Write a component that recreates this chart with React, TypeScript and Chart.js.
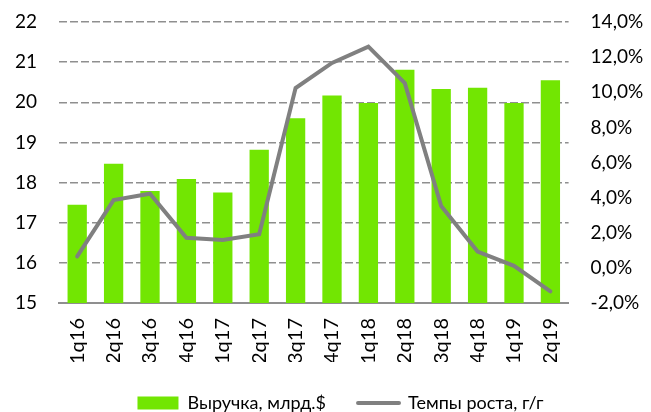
import React, { useEffect, useRef } from "react";
import { Chart, registerables } from "chart.js";

Chart.register(...registerables);

const categories = ["1q16", "2q16", "3q16", "4q16", "1q17", "2q17", "3q17", "4q17", "1q18", "2q18", "3q18", "4q18", "1q19", "2q19"];
const revenue = [17.45, 18.47, 17.79, 18.09, 17.75, 18.82, 19.6, 20.17, 19.98, 20.81, 20.33, 20.36, 19.98, 20.55];
const growth = [0.65, 3.86, 4.22, 1.71, 1.59, 1.91, 10.24, 11.67, 12.6, 10.52, 3.52, 0.93, 0.12, -1.34];
const revenueLabel = "Выручка, млрд.$";
const growthLabel = "Темпы роста, г/г";

const FONT = "Lato, 'Open Sans', sans-serif";
const GREEN = "#72e602";
const LINE_GRAY = "#808080";
const GRID_GRAY = "#8f8f8f";

const shiftLegend = {
  id: "shiftLegend",
  afterLayout(c: any) {
    if (c.legend) {
      c.legend.left += 15;
      c.legend.right += 15;
    }
  },
};

export default function App() {
  const ref = useRef<HTMLCanvasElement | null>(null);

  useEffect(() => {
    if (!ref.current) return;
    const chart = new Chart(ref.current, {
      type: "bar",
      plugins: [shiftLegend],
      data: {
        labels: categories,
        datasets: [
          {
            type: "bar",
            label: revenueLabel,
            data: revenue,
            backgroundColor: GREEN,
            borderWidth: 0,
            barPercentage: 0.53,
            categoryPercentage: 1,
            yAxisID: "y",
            order: 2,
          },
          {
            type: "line",
            label: growthLabel,
            data: growth,
            borderColor: LINE_GRAY,
            backgroundColor: LINE_GRAY,
            borderWidth: 4,
            pointRadius: 0,
            tension: 0,
            borderCapStyle: "round",
            yAxisID: "y1",
            order: 1,
          } as any,
        ],
      },
      options: {
        animation: false,
        responsive: false,
        maintainAspectRatio: false,
        layout: { padding: { top: 22, left: 0, right: 0, bottom: -10 } },
        plugins: {
          tooltip: { enabled: false },
          legend: {
            position: "bottom",
            labels: {
              color: "#000",
              font: { family: FONT, size: 18 },
              boxWidth: 40,
              boxHeight: 13,
              padding: 32,
              generateLabels: (c: any) =>
                c.data.datasets.map((ds: any, i: number) => ({
                  text: ds.label,
                  fillStyle: i === 0 ? GREEN : LINE_GRAY,
                  strokeStyle: i === 0 ? GREEN : LINE_GRAY,
                  lineWidth: i === 0 ? 0 : 4,
                  lineCap: "round",
                  hidden: false,
                  datasetIndex: i,
                  pointStyle: i === 0 ? "rect" : "line",
                  fontColor: "#000",
                })),
              usePointStyle: true,
              pointStyleWidth: 41,
            },
          },
        },
        scales: {
          x: {
            grid: { display: false },
            border: { display: true, color: GRID_GRAY, width: 2 },
            ticks: {
              color: "#000",
              font: { family: FONT, size: 20 },
              minRotation: 90,
              maxRotation: 90,
              padding: 7,
              autoSkip: false,
            },
            afterFit: (s: any) => {
              s.height = 59;
            },
          },
          y: {
            position: "left",
            min: 15,
            max: 22,
            ticks: {
              stepSize: 1,
              color: "#000",
              font: { family: FONT, size: 19 },
              padding: 22,
            },
            grid: {
              drawTicks: false,
              color: (ctx: any) => (ctx.tick && ctx.tick.value === 15 ? "rgba(0,0,0,0)" : GRID_GRAY),
              lineWidth: 1.5,
            },
            border: { display: false, dash: [8, 3] },
            afterFit: (s: any) => {
              s.width = 59;
              s.paddingTop = 0;
              s.paddingBottom = 0;
            },
          },
          y1: {
            position: "right",
            min: -2,
            max: 14,
            ticks: {
              stepSize: 2,
              color: "#000",
              font: { family: FONT, size: 19 },
              padding: 22,
              callback: (v: any) => Number(v).toFixed(1).replace(".", ",") + "%",
            },
            grid: { display: false, drawTicks: false },
            border: { display: false },
            afterFit: (s: any) => {
              s.width = 82.4;
              s.paddingTop = 0;
              s.paddingBottom = 0;
            },
          },
        },
      },
    });
    return () => chart.destroy();
  }, []);

  return (
    <div style={{ position: "absolute", left: 0, top: 0, width: 651, height: 412, background: "#fff" }}>
      <canvas ref={ref} width={651} height={412} style={{ width: 651, height: 412 }} />
    </div>
  );
}
